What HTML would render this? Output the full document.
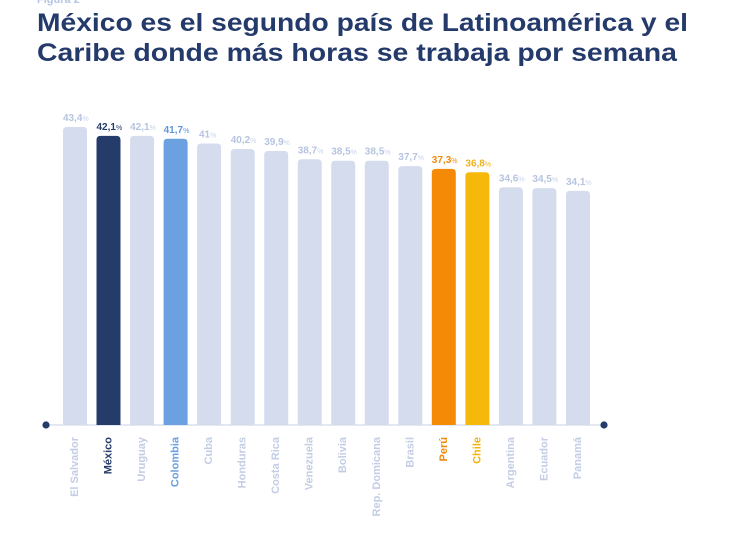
<!DOCTYPE html>
<html>
<head>
<meta charset="utf-8">
<style>
html,body{margin:0;padding:0;background:#fff;}
svg{display:block;}
text{font-family:"Liberation Sans",sans-serif;}
</style>
</head>
<body>
<svg width="731" height="559" viewBox="0 0 731 559" xmlns="http://www.w3.org/2000/svg">
  <rect width="731" height="559" fill="#fff"/>
  <text x="37" y="3" font-size="11" font-weight="bold" fill="#b3c4e6">Figura 2</text>
  <text x="37" y="31" font-size="25" font-weight="bold" fill="#243a6b" textLength="651" lengthAdjust="spacingAndGlyphs">México es el segundo país de Latinoamérica y el</text>
  <text x="37" y="61" font-size="25" font-weight="bold" fill="#243a6b" textLength="640" lengthAdjust="spacingAndGlyphs">Caribe donde más horas se trabaja por semana</text>

  <!-- baseline -->
  <line x1="46" y1="425" x2="604" y2="425" stroke="#e4e8f1" stroke-width="2"/>
  <circle cx="46" cy="425" r="3.6" fill="#253c6b"/>
  <circle cx="604" cy="425" r="3.6" fill="#253c6b"/>

  <g>
    <path d="M63,425 V131 Q63,127 67,127 H83 Q87,127 87,131 V425 Z" fill="#d4dcee"/>
    <path d="M96.5,425 V139.9 Q96.5,135.9 100.5,135.9 H116.5 Q120.5,135.9 120.5,139.9 V425 Z" fill="#253c6b"/>
    <path d="M130.1,425 V139.9 Q130.1,135.9 134.1,135.9 H150.1 Q154.1,135.9 154.1,139.9 V425 Z" fill="#d4dcee"/>
    <path d="M163.6,425 V142.7 Q163.6,138.7 167.6,138.7 H183.6 Q187.6,138.7 187.6,142.7 V425 Z" fill="#6ba1e1"/>
    <path d="M197.1,425 V147.5 Q197.1,143.5 201.1,143.5 H217.1 Q221.1,143.5 221.1,147.5 V425 Z" fill="#d4dcee"/>
    <path d="M230.7,425 V153 Q230.7,149 234.7,149 H250.7 Q254.7,149 254.7,153 V425 Z" fill="#d4dcee"/>
    <path d="M264.2,425 V155 Q264.2,151 268.2,151 H284.2 Q288.2,151 288.2,155 V425 Z" fill="#d4dcee"/>
    <path d="M297.7,425 V163.3 Q297.7,159.3 301.7,159.3 H317.7 Q321.7,159.3 321.7,163.3 V425 Z" fill="#d4dcee"/>
    <path d="M331.2,425 V164.7 Q331.2,160.7 335.2,160.7 H351.2 Q355.2,160.7 355.2,164.7 V425 Z" fill="#d4dcee"/>
    <path d="M364.8,425 V164.7 Q364.8,160.7 368.8,160.7 H384.8 Q388.8,160.7 388.8,164.7 V425 Z" fill="#d4dcee"/>
    <path d="M398.3,425 V170.1 Q398.3,166.1 402.3,166.1 H418.3 Q422.3,166.1 422.3,170.1 V425 Z" fill="#d4dcee"/>
    <path d="M431.8,425 V172.9 Q431.8,168.9 435.8,168.9 H451.8 Q455.8,168.9 455.8,172.9 V425 Z" fill="#f58a06"/>
    <path d="M465.4,425 V176.3 Q465.4,172.3 469.4,172.3 H485.4 Q489.4,172.3 489.4,176.3 V425 Z" fill="#f6b80a"/>
    <path d="M498.9,425 V191.4 Q498.9,187.4 502.9,187.4 H518.9 Q522.9,187.4 522.9,191.4 V425 Z" fill="#d4dcee"/>
    <path d="M532.4,425 V192.1 Q532.4,188.1 536.4,188.1 H552.4 Q556.4,188.1 556.4,192.1 V425 Z" fill="#d4dcee"/>
    <path d="M566,425 V194.9 Q566,190.9 570,190.9 H586 Q590,190.9 590,194.9 V425 Z" fill="#d4dcee"/>
  </g>

  <!-- value labels -->
  <g font-weight="bold" font-size="10">
    <text x="63" y="121" fill="#b6c4e0">43,4<tspan font-size="7" font-weight="normal" fill="#c8d3ea">%</tspan></text>
    <text x="96.5" y="130" fill="#253c6b">42,1<tspan font-size="7" font-weight="normal">%</tspan></text>
    <text x="130.1" y="130" fill="#b6c4e0">42,1<tspan font-size="7" font-weight="normal" fill="#c8d3ea">%</tspan></text>
    <text x="163.6" y="133" fill="#5f97dc">41,7<tspan font-size="7" font-weight="normal">%</tspan></text>
    <text x="199" y="137.5" fill="#b6c4e0">41<tspan font-size="7" font-weight="normal" fill="#c8d3ea">%</tspan></text>
    <text x="230.7" y="143" fill="#b6c4e0">40,2<tspan font-size="7" font-weight="normal" fill="#c8d3ea">%</tspan></text>
    <text x="264.2" y="145" fill="#b6c4e0">39,9<tspan font-size="7" font-weight="normal" fill="#c8d3ea">%</tspan></text>
    <text x="297.7" y="153.3" fill="#b6c4e0">38,7<tspan font-size="7" font-weight="normal" fill="#c8d3ea">%</tspan></text>
    <text x="331.2" y="154.7" fill="#b6c4e0">38,5<tspan font-size="7" font-weight="normal" fill="#c8d3ea">%</tspan></text>
    <text x="364.8" y="154.7" fill="#b6c4e0">38,5<tspan font-size="7" font-weight="normal" fill="#c8d3ea">%</tspan></text>
    <text x="398.3" y="160.1" fill="#b6c4e0">37,7<tspan font-size="7" font-weight="normal" fill="#c8d3ea">%</tspan></text>
    <text x="431.8" y="162.9" fill="#f08a0a">37,3<tspan font-size="7" font-weight="normal">%</tspan></text>
    <text x="465.4" y="166.3" fill="#f0b41a">36,8<tspan font-size="7" font-weight="normal">%</tspan></text>
    <text x="498.9" y="181.4" fill="#b6c4e0">34,6<tspan font-size="7" font-weight="normal" fill="#c8d3ea">%</tspan></text>
    <text x="532.4" y="182.1" fill="#b6c4e0">34,5<tspan font-size="7" font-weight="normal" fill="#c8d3ea">%</tspan></text>
    <text x="566" y="184.9" fill="#b6c4e0">34,1<tspan font-size="7" font-weight="normal" fill="#c8d3ea">%</tspan></text>
  </g>

  <!-- category labels -->
  <g font-weight="bold" font-size="11" text-anchor="end" dominant-baseline="central" fill="#c3cde4">
    <text transform="translate(75,437) rotate(-90)">El Salvador</text>
    <text transform="translate(108.5,437) rotate(-90)" fill="#253c6b">México</text>
    <text transform="translate(142.1,437) rotate(-90)">Uruguay</text>
    <text transform="translate(175.6,437) rotate(-90)" fill="#6aa0e0">Colombia</text>
    <text transform="translate(209.1,437) rotate(-90)">Cuba</text>
    <text transform="translate(242.7,437) rotate(-90)">Honduras</text>
    <text transform="translate(276.2,437) rotate(-90)">Costa Rica</text>
    <text transform="translate(309.7,437) rotate(-90)">Venezuela</text>
    <text transform="translate(343.2,437) rotate(-90)">Bolivia</text>
    <text transform="translate(376.8,437) rotate(-90)">Rep. Domicana</text>
    <text transform="translate(410.3,437) rotate(-90)">Brasil</text>
    <text transform="translate(443.8,437) rotate(-90)" fill="#f08a0a">Perú</text>
    <text transform="translate(477.4,437) rotate(-90)" fill="#f3b40c">Chile</text>
    <text transform="translate(510.9,437) rotate(-90)">Argentina</text>
    <text transform="translate(544.4,437) rotate(-90)">Ecuador</text>
    <text transform="translate(578,437) rotate(-90)">Panamá</text>
  </g>
</svg>
</body>
</html>
